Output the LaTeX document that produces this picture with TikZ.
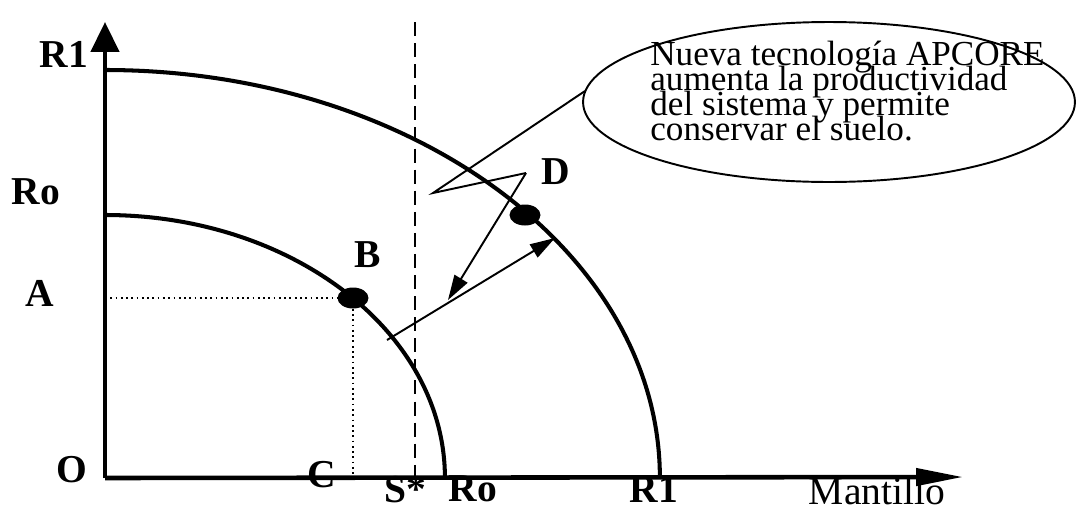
\documentclass[tikz,border=0pt]{standalone}
\usepackage{fontspec}
\setmainfont{Liberation Serif}
\usetikzlibrary{arrows.meta,shapes.geometric}
\newcommand{\calloutfont}{\fontsize{20}{14.2}\selectfont\lineskiplimit=-30pt\relax}
\begin{document}
\begin{tikzpicture}[x=0.02cm,y=-0.02cm,
  axis/.style={line width=2.6pt},
  curve/.style={line width=2.3pt},
  thin arrow/.style={line width=1.1pt,-{Triangle[length=0.5cm,width=0.3cm]}},
  lbl/.style={font=\fontsize{22.5}{22.5}\selectfont\bfseries,inner sep=0pt},
  dot/.style={ellipse,fill=black,minimum width=0.62cm,minimum height=0.42cm,inner sep=0pt},
  guide/.style={line width=1pt,dotted},
  callout/.style={ellipse,draw,line width=1.1pt,minimum width=9.84cm,minimum height=3.2cm}]
\useasboundingbox (0,0) rectangle (1086,511);
% axes
\coordinate (O) at (105,478);
\coordinate (ytip) at (105,22);
\coordinate (xtip) at (963,477);
\draw[axis,-{Triangle[length=0.6cm,width=0.56cm]}] (O) -- (ytip);
\draw[axis,-{Triangle[length=0.94cm,width=0.34cm]}] (O) -- (xtip);
% curves
\draw[curve] (105,215) arc[start angle=90,end angle=0,x radius=6.8cm,y radius=5.26cm];
\draw[curve] (105,70) arc[start angle=90,end angle=0,x radius=11.1cm,y radius=8.16cm];
% dashed line
\coordinate (s1) at (415,22);
\coordinate (s2) at (415,478);
\draw[line width=1.1pt,dash pattern=on 8pt off 4pt] (s1) -- (s2);
% points
\node[dot] (B) at (353,298) {};
\node[dot] (D) at (525,215) {};
\coordinate (Ay) at (105,298);
\coordinate (Cx) at (353,478);
\draw[guide] (Ay) -- (B);
\draw[guide] (B) -- (Cx);
% labels
\node[lbl] (lR1y) at (64,54) {R1};
\node[lbl] (lRoy) at (36,192) {Ro};
\node[lbl] (lA) at (40,293) {A};
\node[lbl] (lO) at (72,470) {O};
\node[lbl] (lC) at (322,475) {C};
\node[lbl] (lS) at (405,490) {S*};
\node[lbl] (lRox) at (473,489) {Ro};
\node[lbl] (lR1x) at (654,489) {R1};
\node[lbl] (lB) at (368,255) {B};
\node[lbl] (lD) at (556,172) {D};
\node[font=\fontsize{22.5}{22.5}\selectfont,inner sep=0pt] (lM) at (877,491) {Mantillo};
% arrows between curves
\coordinate (a1) at (387,340);
\coordinate (a2) at (555,238);
\draw[thin arrow] (a1) -- (a2);
% callout
\node[callout] (call) at (829,102) {};
\node[anchor=base west,align=left,inner sep=0pt,font=\calloutfont] (ctext) at (650,140)
  {Nueva tecnología APCORE\\aumenta la productividad\\del sistema y permite\\conservar el suelo.};
\coordinate (t0) at (585,91);
\coordinate (t1) at (433,193);
\coordinate (t2) at (526,173);
\coordinate (t3) at (448,300);
\draw[line width=1.1pt] (t0) -- (t1) -- (t2);
\draw[thin arrow] (t2) -- (t3);
\end{tikzpicture}
\end{document}
